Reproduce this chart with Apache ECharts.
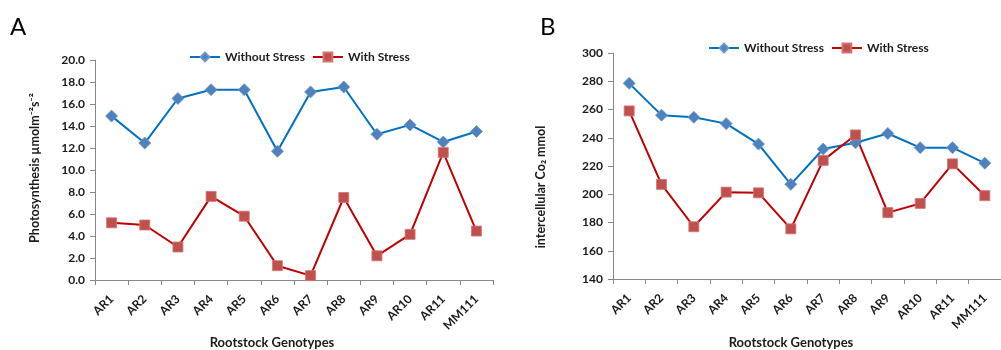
<!DOCTYPE html>
<html><head><meta charset="utf-8">
<script src="https://cdn.jsdelivr.net/npm/echarts@6/dist/echarts.min.js"></script>
<style>html,body{margin:0;padding:0;background:#fff}#c{width:1001px;height:350px}</style>
</head><body><div id="c"></div>
<script>
const categories = ['AR1','AR2','AR3','AR4','AR5','AR6','AR7','AR8','AR9','AR10','AR11','MM111'];
const photoWithout = [14.9, 12.45, 16.5, 17.3, 17.3, 11.7, 17.1, 17.55, 13.25, 14.1, 12.55, 13.5];
const photoWith = [5.2, 5.0, 3.0, 7.6, 5.8, 1.3, 0.4, 7.5, 2.2, 4.15, 11.6, 4.45];
const co2Without = [278.5, 256, 254.5, 250, 235.5, 207, 232, 236.5, 243, 233, 233, 222];
const co2With = [259, 207, 177, 201.5, 201, 175.5, 224, 242, 187, 193.5, 221.5, 199];
const seriesNames = ['Without Stress', 'With Stress'];

const FONT = 'Lato, "Open Sans", sans-serif';
const TXT = '#1a1a1a';
const AXC = '#888888';
const BLUE_L = '#0070C0', BLUE_M = '#4F81BD', RED_L = '#C00000', RED_M = '#C0504D';

function xAx(gi){
  return {type:'category', gridIndex:gi, data:categories, boundaryGap:true,
    axisLine:{lineStyle:{color:AXC, width:1}},
    axisTick:{show:true, length:5, lineStyle:{color:AXC}},
    axisLabel:{rotate:45, interval:0, color:TXT, fontFamily:FONT, fontWeight:'bold', fontSize:12, margin:17},
    splitLine:{show:false}};
}
function yAx(gi,min,max,iv,dec){
  return {type:'value', gridIndex:gi, min:min, max:max, interval:iv,
    axisLine:{show:true, lineStyle:{color:AXC, width:1}},
    axisTick:{show:true, length:5, lineStyle:{color:AXC}},
    axisLabel:{color:TXT, fontFamily:FONT, fontWeight:'bold', fontSize:12, margin:10,
      formatter: v => v.toFixed(dec)},
    splitLine:{show:false}};
}
function ser(name, data, gi, isBlue){
  return {name:name, type:'line', xAxisIndex:gi, yAxisIndex:gi, data:data,
    symbol: isBlue ? 'diamond' : 'rect', symbolSize: isBlue ? 12 : 10,
    lineStyle:{color: isBlue ? BLUE_L : RED_L, width:2},
    itemStyle:{color: isBlue ? BLUE_M : RED_M, borderColor: isBlue ? '#6a96cc' : '#d07572', borderWidth:0.8},
    animation:false};
}
const legendCommon = {orient:'horizontal', padding:0, itemWidth:30, itemHeight:11, itemGap:7,
  textStyle:{color:TXT, fontFamily:FONT, fontWeight:'bold', fontSize:12}, data:seriesNames};

const chart = echarts.init(document.getElementById('c'));
chart.setOption({
  animation:false,
  legend:[
    Object.assign({}, legendCommon, {left:189, top:51}),
    Object.assign({}, legendCommon, {left:708, top:42})
  ],
  grid:[
    {left:95, top:60, width:398, height:220},
    {left:613, top:53, width:400, height:226}
  ],
  xAxis:[xAx(0), xAx(1)],
  yAxis:[yAx(0,0,20,2,1), yAx(1,140,300,20,0)],
  series:[
    ser(seriesNames[0], photoWithout, 0, true),
    ser(seriesNames[1], photoWith, 0, false),
    ser(seriesNames[0], co2Without, 1, true),
    ser(seriesNames[1], co2With, 1, false)
  ],
  graphic:[
    {type:'text', left:10, top:15, style:{text:'A', fontFamily:FONT, fontSize:24, fill:'#000'}},
    {type:'text', left:540, top:15, style:{text:'B', fontFamily:FONT, fontSize:24, fill:'#000'}},
    {type:'text', x:272, y:343, style:{text:'Rootstock Genotypes', fontFamily:FONT, fontWeight:'bold', fontSize:13, fill:TXT, align:'center', verticalAlign:'middle'}},
    {type:'text', x:791, y:343, style:{text:'Rootstock Genotypes', fontFamily:FONT, fontWeight:'bold', fontSize:13, fill:TXT, align:'center', verticalAlign:'middle'}},
    {type:'text', x:35, y:168, rotation:Math.PI/2, style:{text:'Photosynthesis µmolm⁻²s⁻²', fontFamily:FONT, fontWeight:'bold', fontSize:12.5, fill:TXT, align:'center', verticalAlign:'middle'}},
    {type:'text', x:541, y:187, rotation:Math.PI/2, style:{text:'intercellular Co₂ mmol', fontFamily:FONT, fontWeight:'bold', fontSize:12.5, fill:TXT, align:'center', verticalAlign:'middle'}}
  ]
});
</script></body></html>
